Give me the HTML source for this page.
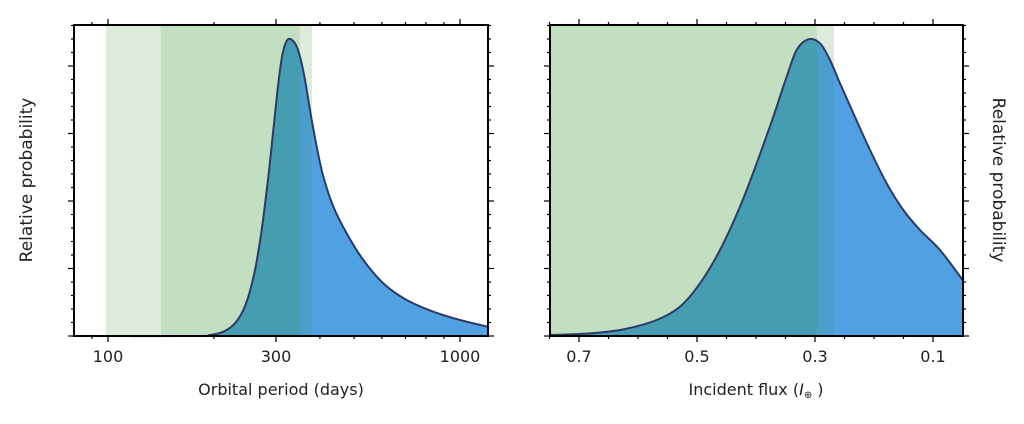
<!DOCTYPE html>
<html><head><meta charset="utf-8"><style>
body{margin:0;background:#fff;width:1024px;height:420px;overflow:hidden;font-family:"DejaVu Sans","Liberation Sans",sans-serif}
svg text{font-family:"DejaVu Sans","Liberation Sans",sans-serif;fill:#222}
</style></head><body>
<svg id="s" width="1024" height="420" viewBox="0 0 1024 420" xmlns="http://www.w3.org/2000/svg">
<defs>
<clipPath id="c1"><path id="p1c"/></clipPath>
<clipPath id="c2"><path id="p2c"/></clipPath>
</defs>
<rect x="106" y="25" width="206" height="311" fill="#dcebdc"/>
<rect x="161" y="25" width="139" height="311" fill="#c3dfc2"/>
<path id="p1f" fill="#51a1e2"/>
<g clip-path="url(#c1)">
<rect x="106" y="25" width="206" height="311" fill="#4a9ec9"/>
<rect x="161" y="25" width="139" height="311" fill="#459db2"/>
</g>
<path id="p1s" fill="none" stroke="#2c3b66" stroke-width="2"/>
<rect x="74" y="25" width="414" height="311" fill="none" stroke="#000" stroke-width="2"/>
<g id="t1" stroke="#000" stroke-width="1.2"></g>
<text x="108" y="362" text-anchor="middle" font-size="16">100</text>
<text x="276" y="362" text-anchor="middle" font-size="16">300</text>
<text x="460" y="362" text-anchor="middle" font-size="16">1000</text>
<text x="281" y="395" text-anchor="middle" font-size="16">Orbital period (days)</text>
<text transform="translate(32,180) rotate(-90)" text-anchor="middle" font-size="17">Relative probability</text>
<rect x="550" y="25" width="284" height="311" fill="#dcebdc"/>
<rect x="550" y="25" width="267" height="311" fill="#c3dfc2"/>
<path id="p2f" fill="#51a1e2"/>
<g clip-path="url(#c2)">
<rect x="550" y="25" width="284" height="311" fill="#4a9ec9"/>
<rect x="550" y="25" width="267" height="311" fill="#459db2"/>
</g>
<path id="p2s" fill="none" stroke="#2c3b66" stroke-width="2"/>
<rect x="550" y="25" width="413" height="311" fill="none" stroke="#000" stroke-width="2"/>
<g id="t2" stroke="#000" stroke-width="1.2"></g>
<text x="579" y="362" text-anchor="middle" font-size="16">0.7</text>
<text x="697" y="362" text-anchor="middle" font-size="16">0.5</text>
<text x="815" y="362" text-anchor="middle" font-size="16">0.3</text>
<text x="933" y="362" text-anchor="middle" font-size="16">0.1</text>
<text x="756" y="395" text-anchor="middle" font-size="16">Incident flux (<tspan font-style="italic">I</tspan><tspan font-size="10" dy="3">⊕</tspan><tspan dy="-3"> )</tspan></text>
<text transform="translate(993,180) rotate(90)" text-anchor="middle" font-size="17">Relative probability</text>
</svg>
<script>
function cr(pts){let d="M"+pts[0][0]+","+pts[0][1];for(let i=0;i<pts.length-1;i++){const p0=pts[Math.max(i-1,0)],p1=pts[i],p2=pts[i+1],p3=pts[Math.min(i+2,pts.length-1)];const c1=[p1[0]+(p2[0]-p0[0])/6,p1[1]+(p2[1]-p0[1])/6],c2=[p2[0]-(p3[0]-p1[0])/6,p2[1]-(p3[1]-p1[1])/6];d+=" C"+c1+" "+c2+" "+p2;}return d;}
function conv(a,ox){return a.map(p=>[p[0]/3+ox,p[1]/3+10]);}
const L=conv([[42,978],[400,978],[450,975],[490,965],[520,945],[545,910],[565,860],[585,780],[605,660],[625,500],[640,360],[655,220],[668,130],[684,88],[705,100],[720,140],[735,210],[750,300],[770,410],[790,500],[820,590],[860,670],[910,750],[970,820],[1040,870],[1120,905],[1200,930],[1283,950]],60);
const R=conv([[30,975],[150,970],[250,958],[350,930],[420,890],[480,820],[540,720],[600,590],[650,460],[700,320],[740,200],[770,120],[805,88],[840,100],[870,150],[900,220],[940,310],[990,420],[1040,520],[1090,600],[1140,660],[1200,720],[1268,810]],540);
function setp(pts,id,y0){const s=cr(pts);document.getElementById(id+"s").setAttribute("d",s);const f=s+" L"+pts[pts.length-1][0]+","+y0+" L"+pts[0][0]+","+y0+" Z";document.getElementById(id+"f").setAttribute("d",f);document.getElementById(id+"c").setAttribute("d",f);}
setp(L,"p1",336);setp(R,"p2",336);
function ytk(x1,x2){let h="";for(let i=0;i<=23;i++){const y=336-i*13.5;if(y<25)break;const l=i%5==0?6:3;h+=`<line x1="${x1}" y1="${y}" x2="${x1-l}" y2="${y}"/><line x1="${x2}" y1="${y}" x2="${x2+l}" y2="${y}"/>`;}return h;}
let h1=ytk(74,488);
[80,90,100,200,300,400,500,600,700,800,900,1000].forEach(v=>{const x=108+352*Math.log10(v/100);if(x<74||x>488)return;const l=(v==100||v==1000||v==300)?6:3;h1+=`<line x1="${x}" y1="336" x2="${x}" y2="${336+l}"/><line x1="${x}" y1="25" x2="${x}" y2="${25-l}"/>`;});
document.getElementById("t1").innerHTML=h1;
let h2=ytk(550,963);
for(let v=0.75;v>=0.05;v-=0.05){const x=579+(0.7-v)*590;if(x<549||x>964)continue;const major=Math.abs((v*10)%2-1)<0.01;const l=major?6:3;h2+=`<line x1="${x}" y1="336" x2="${x}" y2="${336+l}"/><line x1="${x}" y1="25" x2="${x}" y2="${25-l}"/>`;}
document.getElementById("t2").innerHTML=h2;
</script>
</body></html>
